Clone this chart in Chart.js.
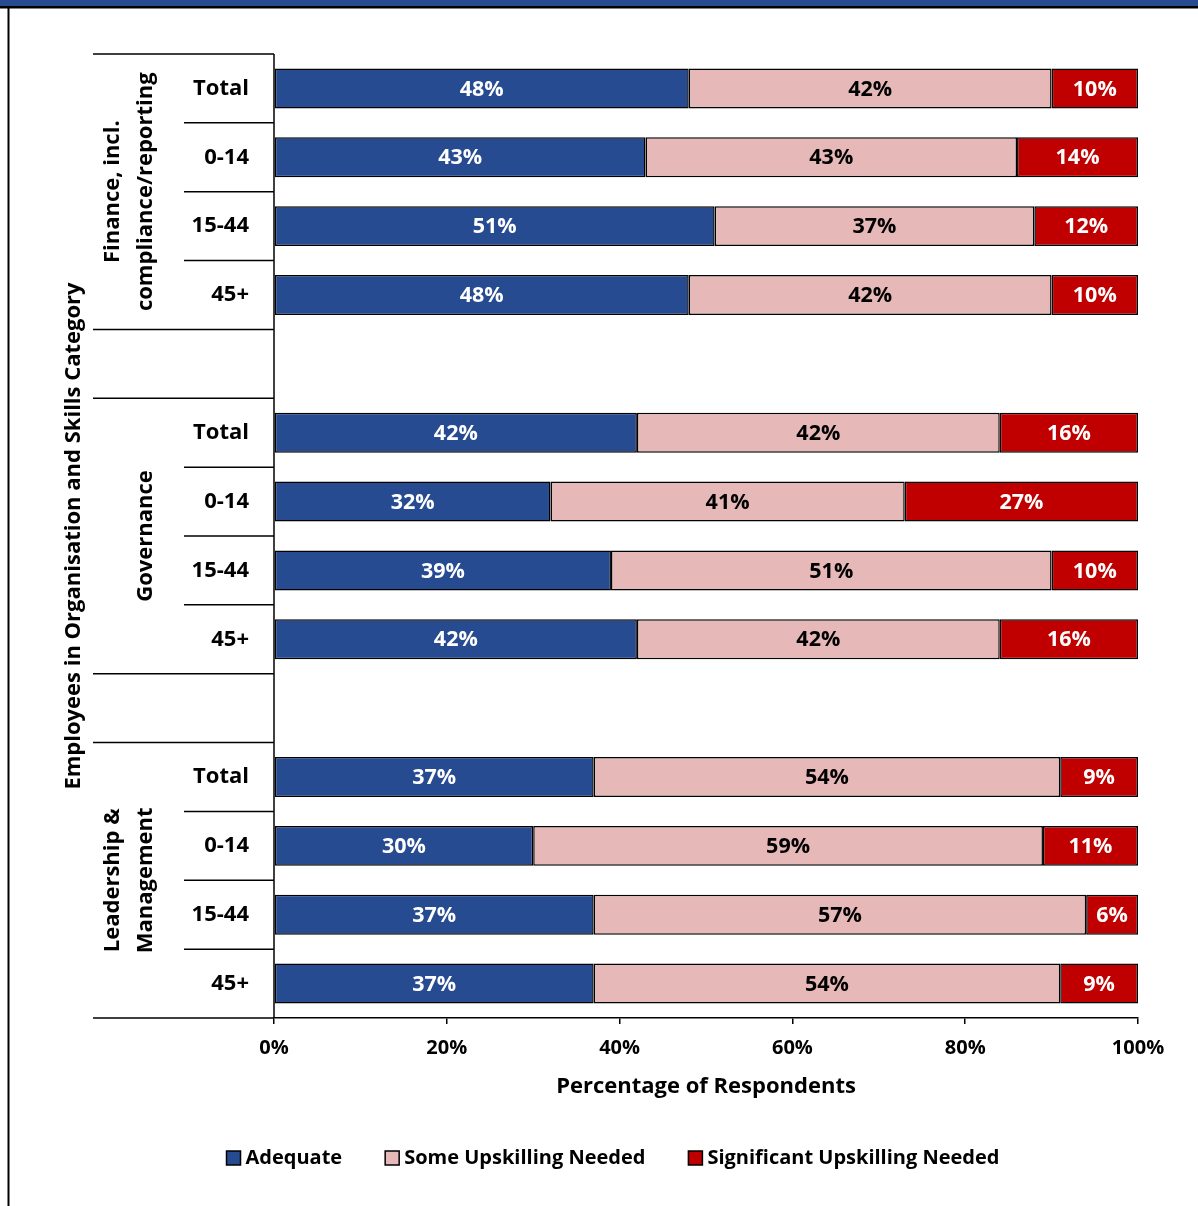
<!DOCTYPE html>
<html>
<head>
<meta charset="utf-8">
<script src="https://cdn.jsdelivr.net/npm/chart.js@4/dist/chart.umd.min.js"></script>
<style>
  html, body { margin: 0; padding: 0; background: #fff; }
  #wrap { width: 1198px; height: 1206px; }
</style>
</head>
<body>
<div id="wrap"><canvas id="skillsChart" width="1198" height="1206"></canvas></div>
<script>
// filas del gráfico (las vacías separan los grupos)
const categories = ['Total', '0-14', '15-44', '45+', '', 'Total', '0-14', '15-44', '45+', '', 'Total', '0-14', '15-44', '45+'];
const groupNames = [
    ['Finance, incl.', 'compliance/reporting'],
    ['Governance'],
    ['Leadership &', 'Management']
];
const groupRows = [[0, 3], [5, 8], [10, 13]];

const adequate = [48, 43, 51, 48, null, 42, 32, 39, 42, null, 37, 30, 37, 37];
const someUpskilling = [42, 43, 37, 42, null, 42, 41, 51, 42, null, 54, 59, 57, 54];
const significantUpskilling = [10, 14, 12, 10, null, 16, 27, 10, 16, null, 9, 11, 6, 9];

const seriesNames = ['Adequate', 'Some Upskilling Needed', 'Significant Upskilling Needed'];
const seriesColors = ['#264B90', '#E6B8B7', '#C00000'];
const labelColors = ['#fff', '#000', '#fff'];
const xTicks = [0, 20, 40, 60, 80, 100];

const FONT = '"Open Sans", Lato, sans-serif';

// Marco, eje de categorías, títulos, etiquetas y leyenda
const decorPlugin = {
    id: 'decor',
    beforeDraw(chart) {
        const ctx = chart.ctx;
        ctx.save();
        ctx.fillStyle = '#fff';
        ctx.fillRect(0, 0, chart.width, chart.height);
        // banda superior
        ctx.fillStyle = '#264B90';
        ctx.fillRect(0, 0, chart.width, 6);
        ctx.fillStyle = '#000';
        ctx.fillRect(0, 6, chart.width, 2.5);
        ctx.fillRect(7.5, 6, 2, chart.height);
        ctx.restore();
    },
    afterDatasetsDraw(chart) {
        const ctx = chart.ctx;
        ctx.save();
        ctx.font = 'bold 21.5px ' + FONT;
        ctx.textAlign = 'center';
        ctx.textBaseline = 'middle';
        chart.data.datasets.forEach(function(ds, i) {
            const meta = chart.getDatasetMeta(i);
            meta.data.forEach(function(bar, j) {
                const v = ds.data[j];
                if (v === null || v === undefined) return;
                ctx.fillStyle = labelColors[i];
                ctx.fillText(v + '%', (bar.x + bar.base) / 2, bar.y + 1);
            });
        });
        ctx.restore();
    },
    afterDraw(chart) {
        const ctx = chart.ctx;
        const area = chart.chartArea;
        const y = chart.scales.y;
        const step = (area.bottom - area.top) / categories.length;
        ctx.save();

        // línea del eje vertical
        ctx.strokeStyle = '#000';
        ctx.lineWidth = 1.5;
        ctx.beginPath();
        ctx.moveTo(area.left, area.top);
        ctx.lineTo(area.left, area.bottom);
        ctx.stroke();

        // separadores de filas y de grupos
        for (let k = 0; k <= categories.length; k++) {
            const py = area.top + k * step;
            const isGroupEdge = groupRows.some(g => g[0] === k || g[1] + 1 === k);
            const inGroup = groupRows.some(g => k > g[0] && k <= g[1]);
            let x0 = null;
            if (isGroupEdge) x0 = 93;
            else if (inGroup) x0 = 184;
            if (x0 === null) continue;
            ctx.beginPath();
            ctx.moveTo(x0, py);
            ctx.lineTo(area.left, py);
            ctx.stroke();
        }

        // etiquetas de las filas
        ctx.fillStyle = '#000';
        ctx.font = 'bold 22px ' + FONT;
        ctx.textAlign = 'right';
        ctx.textBaseline = 'middle';
        categories.forEach(function(c, i) {
            if (!c) return;
            ctx.fillText(c, 249, y.getPixelForValue(i));
        });

        // nombres de grupo en vertical
        groupNames.forEach(function(lines, g) {
            const cy = (y.getPixelForValue(groupRows[g][0]) + y.getPixelForValue(groupRows[g][1])) / 2;
            lines.forEach(function(line, li) {
                const cx = 146 - (lines.length - 1 - li) * 33;
                ctx.save();
                ctx.translate(cx, cy);
                ctx.rotate(-Math.PI / 2);
                ctx.textAlign = 'center';
                ctx.fillText(line, 0, 0);
                ctx.restore();
            });
        });

        // título del eje de categorías
        ctx.save();
        ctx.translate(74, (area.top + area.bottom) / 2);
        ctx.rotate(-Math.PI / 2);
        ctx.textAlign = 'center';
        ctx.fillText('Employees in Organisation and Skills Category', 0, 0);
        ctx.restore();

        // título del eje de valores
        ctx.textAlign = 'center';
        ctx.fillText('Percentage of Respondents', (area.left + area.right) / 2, 1087);

        // leyenda
        ctx.font = 'bold 20px ' + FONT;
        const box = 14, gapText = 5, gapItem = 43;
        const widths = seriesNames.map(n => box + gapText + ctx.measureText(n).width);
        const total = widths.reduce((a, b) => a + b, 0) + gapItem * (widths.length - 1);
        let lx = 613 - total / 2;
        const ly = 1158;
        ctx.textAlign = 'left';
        seriesNames.forEach(function(n, i) {
            ctx.fillStyle = seriesColors[i];
            ctx.fillRect(lx, ly - box / 2, box, box);
            ctx.strokeStyle = '#000';
            ctx.lineWidth = 1.5;
            ctx.strokeRect(lx, ly - box / 2, box, box);
            ctx.fillStyle = '#000';
            ctx.fillText(n, lx + box + gapText, ly);
            lx += widths[i] + gapItem;
        });
        ctx.restore();
    }
};

function makeDataset(label, data, color) {
    return {
        label: label,
        data: data,
        backgroundColor: color,
        borderColor: '#000',
        borderWidth: 1.5,
        borderSkipped: false,
        categoryPercentage: 1,
        barPercentage: 0.58
    };
}

new Chart(document.getElementById('skillsChart'), {
    type: 'bar',
    data: {
        labels: categories,
        datasets: [
            makeDataset(seriesNames[0], adequate, seriesColors[0]),
            makeDataset(seriesNames[1], someUpskilling, seriesColors[1]),
            makeDataset(seriesNames[2], significantUpskilling, seriesColors[2])
        ]
    },
    options: {
        indexAxis: 'y',
        responsive: false,
        animation: false,
        layout: { padding: { left: 274, top: 54, right: 60, bottom: 0 } },
        plugins: {
            legend: { display: false },
            tooltip: { enabled: false }
        },
        scales: {
            y: {
                display: false,
                stacked: true,
                offset: true
            },
            x: {
                stacked: true,
                min: 0,
                max: 100,
                afterBuildTicks: function(scale) {
                    scale.ticks = xTicks.map(v => ({ value: v }));
                },
                afterFit: function(scale) {
                    scale.height = 188;
                },
                ticks: {
                    color: '#000',
                    font: { family: FONT, size: 20, weight: 'bold' },
                    padding: 12,
                    callback: v => v + '%'
                },
                grid: {
                    drawOnChartArea: false,
                    tickLength: 6,
                    color: '#000',
                    lineWidth: 1.5
                },
                border: { color: '#000', width: 1.5 }
            }
        }
    },
    plugins: [decorPlugin]
});
</script>
</body>
</html>
